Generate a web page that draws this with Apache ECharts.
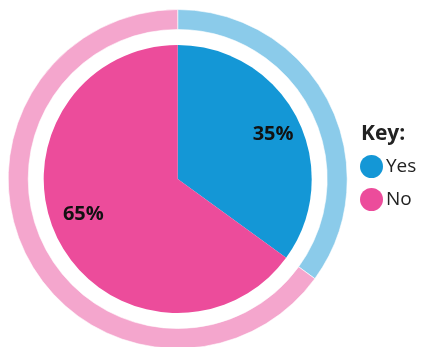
<!DOCTYPE html>
<html>
<head>
<meta charset="utf-8">
<script src="https://cdn.jsdelivr.net/npm/echarts@6/dist/echarts.min.js"></script>
<style>
  html, body { margin: 0; padding: 0; background: #ffffff; }
  #chart { width: 421px; height: 347px; }
</style>
</head>
<body>
<div id="chart"></div>
<script>
// Survey answers
const categories = ['Yes', 'No'];
const shares = [35, 65];

const solidColors = ['#1497d6', '#ec4c9b'];
const ringColors = ['#8bcbea', '#f4a6cd'];
// label nudges away from the default inner position
const labelOffsets = [[33, -13], [-32, 4]];

const center = [177.7, 179];

const chart = echarts.init(document.getElementById('chart'), null, { renderer: 'canvas' });

chart.setOption({
  animation: false,
  title: {
    text: 'Key:',
    left: 361,
    top: 124,
    textStyle: {
      fontFamily: 'Open Sans',
      fontWeight: 'bold',
      fontSize: 21,
      color: '#222222'
    },
    padding: 0
  },
  legend: {
    data: categories,
    orient: 'vertical',
    left: 360,
    top: 155,
    icon: 'circle',
    itemWidth: 23,
    itemHeight: 23,
    itemGap: 10,
    textStyle: {
      fontFamily: 'Open Sans',
      fontSize: 19,
      color: '#222222',
      padding: [0, 0, 0, -2]
    },
    selectedMode: false,
    padding: 0
  },
  series: [
    {
      type: 'pie',
      name: 'answers',
      center: center,
      radius: [0, 134],
      startAngle: 90,
      clockwise: true,
      silent: true,
      data: categories.map((c, i) => ({
        name: c,
        value: shares[i],
        itemStyle: { color: solidColors[i] },
        label: { offset: labelOffsets[i] }
      })),
      label: {
        show: true,
        position: 'inside',
        formatter: '{c}%',
        fontFamily: 'Open Sans',
        fontWeight: 'bold',
        fontSize: 20,
        color: '#111111'
      },
      labelLine: { show: false }
    },
    {
      type: 'pie',
      name: 'ring',
      center: center,
      radius: [149.5, 169.5],
      startAngle: 90,
      clockwise: true,
      silent: true,
      data: categories.map((c, i) => ({
        name: c,
        value: shares[i],
        itemStyle: { color: ringColors[i] }
      })),
      itemStyle: { borderColor: '#ffffff', borderWidth: 0.6 },
      label: { show: false },
      labelLine: { show: false }
    }
  ]
});
</script>
</body>
</html>
